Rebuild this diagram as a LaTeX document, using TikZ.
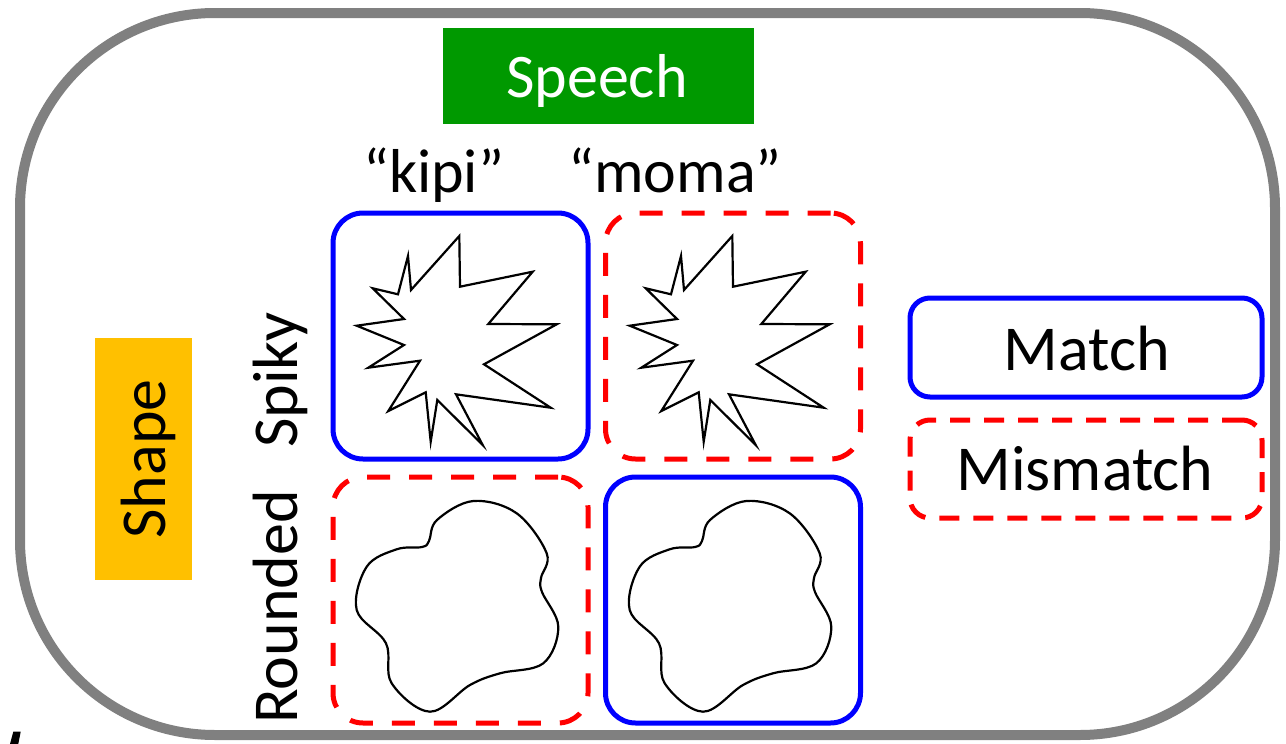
\documentclass[tikz,border=0pt]{standalone}
\usepackage{fontspec}
\setmainfont{Carlito}
\definecolor{speechgreen}{HTML}{009900}
\definecolor{shapeyellow}{HTML}{FFC000}
\definecolor{matchblue}{HTML}{0000FF}
\definecolor{mismatchred}{HTML}{FF0000}
\tikzset{
  matchbox/.style={draw=matchblue, line width=5pt, rounded corners=30pt, minimum width=255pt, minimum height=246pt, inner sep=0pt},
  mismatchbox/.style={draw=mismatchred, line width=5pt, rounded corners=30pt, dash pattern=on 23pt off 19pt, minimum width=255pt, minimum height=246pt, inner sep=0pt},
  legmatch/.style={draw=matchblue, line width=5pt, rounded corners=20pt, minimum width=352pt, minimum height=99pt, inner sep=0pt},
  legmismatch/.style={draw=mismatchred, line width=5pt, rounded corners=20pt, dash pattern=on 20pt off 14pt, minimum width=352pt, minimum height=98pt, inner sep=0pt},
  bigtxt/.style={font=\fontsize{64}{70}\selectfont, inner sep=0pt},
  wordtxt/.style={font=\fontsize{62}{68}\selectfont, inner sep=0pt, anchor=base},
  outline/.style={draw=black, line width=2.2pt, line join=miter}
}
\begin{document}
\begin{tikzpicture}[x=1pt, y=-1pt]
\useasboundingbox (0,0) rectangle (1286,744);
% outer frame
\draw[gray, line width=10pt, rounded corners=195pt] (20,13) rectangle (1275,735);
% speech header
\node[fill=speechgreen, minimum width=311pt, minimum height=96pt, inner sep=0pt] (speechbox) at (598.5,76) {};
\node[bigtxt, text=white, anchor=base, font=\fontsize{62}{68}\selectfont] (speech) at (597,97) {Speech};
\node[wordtxt] (kipi) at (434,192) {“kipi”};
\node[wordtxt] (moma) at (675,192) {“moma”};
% shape header
\node[fill=shapeyellow, minimum width=97pt, minimum height=242pt, inner sep=0pt] (shapebox) at (143.5,459) {};
\node[bigtxt, rotate=90, anchor=base] (shape) at (165,459) {Shape};
\node[bigtxt, rotate=90, anchor=base] (spiky) at (297,380) {Spiky};
\node[bigtxt, rotate=90, anchor=base] (rounded) at (297,607) {Rounded};
% grid boxes
\node[matchbox] (b11) at (460.5,336) {};
\node[mismatchbox] (b12) at (733,336) {};
\node[mismatchbox] (b21) at (460.5,600) {};
\node[matchbox] (b22) at (733,600) {};
% spiky shapes
\foreach \dx in {0,273}{
\draw[outline, shift={(\dx,0)}] (459.3,236) -- (460,286.7) -- (532.7,271.7) -- (488.3,324) -- (556.7,324.3) -- (484,364.3) -- (550.7,407.7) -- (456,394.3) -- (482.7,445) -- (437.3,400) -- (430.7,441.7) -- (425.7,392.3) -- (388.3,411) -- (420,360.7) -- (368.3,367.7) -- (404,345) -- (356.7,325.7) -- (404,319) -- (372.7,288.3) -- (398,294.3) -- (408,256) -- (411,290) -- cycle;
% rounded shapes
\draw[outline, shift={(\dx,0)}] plot[smooth cycle, tension=0.6] coordinates {(429,541) (437,520) (473.3,501) (516.7,513.3) (546.7,553.3) (541,578) (542,592) (558.3,626.7) (543.3,663.3) (500,673.3) (470,685) (430,711.7) (391.7,683.3) (386,643.3) (356.7,610) (366.7,566.7) (396.7,549.3) (422,547)};
}
% legend
\node[legmatch] (legm) at (1086,347.5) {};
\node[bigtxt, anchor=base] (legmtxt) at (1087,370) {Match};
\node[legmismatch] (legmm) at (1086,469) {};
\node[bigtxt, anchor=base] (legmmtxt) at (1085,490) {Mismatch};
% fragment at bottom-left corner
\fill[black] (10,744) -- (13.3,731.7) -- (20.7,731.7) -- (18.3,744) -- cycle;
\end{tikzpicture}
\end{document}
